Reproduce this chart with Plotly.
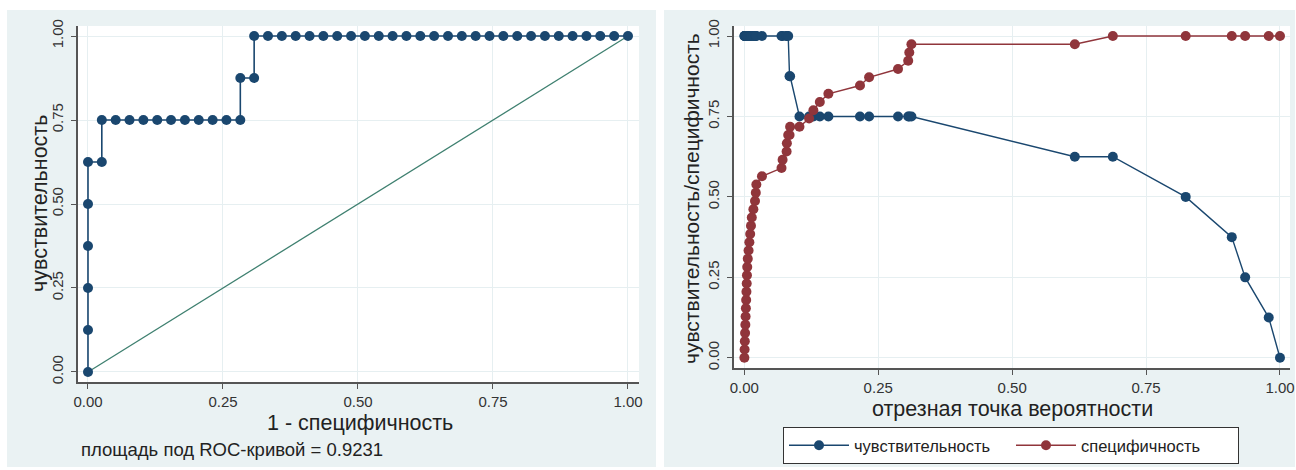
import plotly.graph_objects as go

# ---------------- data ----------------
# ROC curve (left panel)
roc_fpr = [0, 0, 0, 0, 0, 0, 0.0256, 0.0256, 0.0513, 0.0769, 0.1026, 0.1282, 0.1538,
           0.1795, 0.2051, 0.2308, 0.2564, 0.2821, 0.2821, 0.3077, 0.3077, 0.3333,
           0.3590, 0.3846, 0.4103, 0.4359, 0.4615, 0.4872, 0.5128, 0.5385, 0.5641,
           0.5897, 0.6154, 0.6410, 0.6667, 0.6923, 0.7179, 0.7436, 0.7692, 0.7949,
           0.8205, 0.8462, 0.8718, 0.8974, 0.9231, 0.9487, 0.9744, 1.0]
roc_tpr = [0, 0.125, 0.25, 0.375, 0.5, 0.625, 0.625, 0.75, 0.75, 0.75, 0.75, 0.75, 0.75,
           0.75, 0.75, 0.75, 0.75, 0.75, 0.875, 0.875, 1.0, 1.0, 1.0, 1.0, 1.0, 1.0,
           1.0, 1.0, 1.0, 1.0, 1.0, 1.0, 1.0, 1.0, 1.0, 1.0, 1.0, 1.0, 1.0, 1.0, 1.0,
           1.0, 1.0, 1.0, 1.0, 1.0, 1.0, 1.0]
ref_x = [0, 1]
ref_y = [0, 1]
auc_text = "площадь под ROC-кривой = 0.9231"

# Sensitivity / specificity vs probability cutoff (right panel)
cutoff = [0.0002, 0.0006, 0.0010, 0.0015, 0.0020, 0.0025, 0.0030, 0.0035, 0.0040, 0.0045,
          0.0050, 0.0055, 0.0065, 0.0080, 0.0095, 0.0110, 0.0125, 0.0140, 0.0170, 0.0200,
          0.0215, 0.0225, 0.0330, 0.0695, 0.0715, 0.0790, 0.0795, 0.0820, 0.0845, 0.0855,
          0.1030, 0.1210, 0.1290, 0.1410, 0.1570, 0.2160, 0.2330, 0.2870, 0.3060, 0.3080,
          0.3120, 0.6170, 0.6880, 0.8240, 0.9100, 0.9350, 0.9790, 1.0]
sensitivity = [1.0, 1.0, 1.0, 1.0, 1.0, 1.0, 1.0, 1.0, 1.0, 1.0, 1.0, 1.0, 1.0, 1.0,
               1.0, 1.0, 1.0, 1.0, 1.0, 1.0, 1.0, 1.0, 1.0, 1.0, 1.0, 1.0, 1.0, 1.0,
               0.875, 0.875, 0.75, 0.75, 0.75, 0.75, 0.75, 0.75, 0.75, 0.75, 0.75,
               0.75, 0.75, 0.625, 0.625, 0.5, 0.375, 0.25, 0.125, 0.0]
specificity = [0, 0.0256, 0.0513, 0.0769, 0.1026, 0.1282, 0.1538, 0.1795, 0.2051, 0.2308,
               0.2564, 0.2821, 0.3077, 0.3333, 0.3590, 0.3846, 0.4103, 0.4359, 0.4615,
               0.4872, 0.5128, 0.5385, 0.5641, 0.5897, 0.6154, 0.6410, 0.6667, 0.6923,
               0.6923, 0.7179, 0.7179, 0.7436, 0.7692, 0.7949, 0.8205, 0.8462, 0.8718,
               0.8974, 0.9231, 0.9487, 0.9744, 0.9744, 1.0, 1.0, 1.0, 1.0, 1.0, 1.0]

tick_vals = [0, 0.25, 0.5, 0.75, 1.0]
tick_text = ["0.00", "0.25", "0.50", "0.75", "1.00"]

# ---------------- style ----------------
W, H = 1296, 470
BLUE = "#1a476f"
RED = "#90353b"
GREEN = "#3f8070"
PANEL = "#eaf2f3"
GRID = "#e6eff1"
AXIS = "#555555"
FONT = "Liberation Sans, Arial, sans-serif"

def px(x):
    return x / W

def py(y):
    return 1 - y / H

fig = go.Figure()

# left panel traces
fig.add_trace(go.Scatter(x=ref_x, y=ref_y, mode="lines", xaxis="x", yaxis="y",
                         line=dict(color=GREEN, width=1.3), showlegend=False,
                         hoverinfo="skip"))
fig.add_trace(go.Scatter(x=roc_fpr, y=roc_tpr, mode="lines+markers", xaxis="x", yaxis="y",
                         line=dict(color=BLUE, width=1.6),
                         marker=dict(color=BLUE, size=10), showlegend=False))

# right panel traces
fig.add_trace(go.Scatter(x=cutoff, y=sensitivity, mode="lines+markers", xaxis="x2", yaxis="y2",
                         name="чувствительность",
                         line=dict(color=BLUE, width=1.4),
                         marker=dict(color=BLUE, size=10)))
fig.add_trace(go.Scatter(x=cutoff, y=specificity, mode="lines+markers", xaxis="x2", yaxis="y2",
                         name="специфичность",
                         line=dict(color=RED, width=1.4),
                         marker=dict(color=RED, size=10)))

axis_common = dict(
    tickvals=tick_vals, ticktext=tick_text,
    showgrid=True, gridcolor=GRID, gridwidth=1.2,
    zeroline=False, showline=True, linecolor=AXIS, linewidth=1.5,
    ticks="outside", ticklen=5, tickcolor=AXIS, tickwidth=1.3,
    tickfont=dict(family=FONT, size=15, color="#333333"),
    fixedrange=True, automargin=False,
)

# pixel geometry
L_x0, L_x1, L_y0, L_y1 = 78, 639, 26, 382
R_x0, R_x1, R_y0, R_y1 = 734, 1290, 26, 368

TITLE = dict(family=FONT, size=21.5, color="#222222")

fig.update_layout(
    width=W, height=H,
    margin=dict(l=0, r=0, t=0, b=0, autoexpand=False),
    paper_bgcolor="white",
    plot_bgcolor="rgba(0,0,0,0)",
    font=dict(family=FONT, color="#222222"),
    xaxis=dict(domain=[px(L_x0), px(L_x1)], range=[-0.0185, 1.0204], anchor="y",
               ticklabelstandoff=0, **axis_common),
    yaxis=dict(domain=[py(L_y1), py(L_y0)], range=[-0.0298, 1.0298], anchor="x",
               tickangle=-90, ticklabelstandoff=2, **axis_common),
    xaxis2=dict(domain=[px(R_x0), px(R_x1)], range=[-0.0192, 1.0187], anchor="y2",
                ticklabelstandoff=0, **axis_common),
    yaxis2=dict(domain=[py(R_y1), py(R_y0)], range=[-0.0317, 1.0311], anchor="x2",
                tickangle=-90, ticklabelstandoff=2, **axis_common),
    legend=dict(orientation="h", x=px(1011), xanchor="center", y=py(427), yanchor="top",
                bgcolor="white", bordercolor="#333333", borderwidth=1,
                font=dict(family=FONT, size=16.5, color="#222222"),
                itemwidth=60, entrywidth=152, entrywidthmode="pixels",
                traceorder="normal"),
    shapes=[
        dict(type="rect", xref="paper", yref="paper", x0=px(7), x1=px(656),
             y0=py(467), y1=py(10), fillcolor=PANEL, line=dict(width=0), layer="below"),
        dict(type="rect", xref="paper", yref="paper", x0=px(664), x1=px(1295),
             y0=py(467), y1=py(10), fillcolor=PANEL, line=dict(width=0), layer="below"),
        dict(type="rect", xref="paper", yref="paper", x0=px(L_x0), x1=px(L_x1),
             y0=py(L_y1), y1=py(L_y0), fillcolor="white", line=dict(width=0), layer="below"),
        dict(type="rect", xref="paper", yref="paper", x0=px(R_x0), x1=px(R_x1),
             y0=py(R_y1), y1=py(R_y0), fillcolor="white", line=dict(width=0), layer="below"),
    ],
    annotations=[
        dict(text="чувствительность", xref="paper", yref="paper", x=px(40), y=py(204),
             textangle=-90, showarrow=False, font=TITLE,
             xanchor="center", yanchor="middle"),
        dict(text="1 - специфичность", xref="paper", yref="paper", x=px(360), y=py(423),
             showarrow=False, font=TITLE, xanchor="center", yanchor="middle"),
        dict(text=auc_text, xref="paper", yref="paper", x=px(79), y=py(449),
             showarrow=False, font=dict(family=FONT, size=18.5, color="#222222"),
             xanchor="left", yanchor="middle"),
        dict(text="чувствительность/специфичность", xref="paper", yref="paper", x=px(691),
             y=py(199), textangle=-90, showarrow=False,
             font=dict(family=FONT, size=21, color="#222222"),
             xanchor="center", yanchor="middle"),
        dict(text="отрезная точка вероятности", xref="paper", yref="paper", x=px(1012),
             y=py(409), showarrow=False, font=TITLE, xanchor="center", yanchor="middle"),
    ],
)

fig.write_html("out.html")
